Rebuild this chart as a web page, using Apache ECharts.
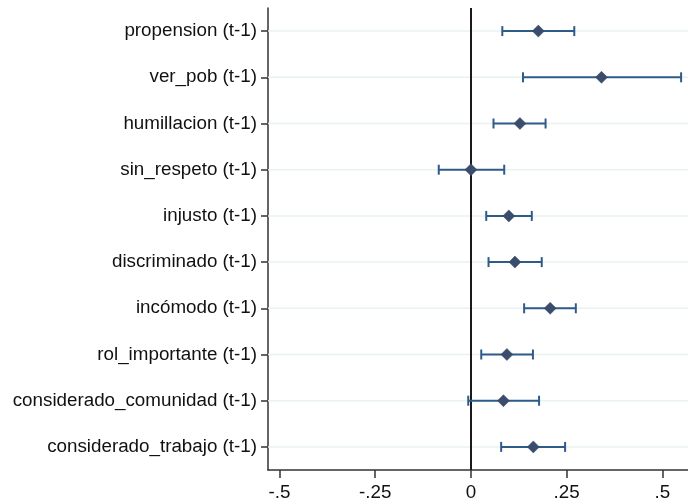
<!DOCTYPE html>
<html>
<head>
<meta charset="utf-8">
<script src="https://cdn.jsdelivr.net/npm/echarts@6/dist/echarts.min.js"></script>
<style>
html,body{margin:0;padding:0;background:#fff;}
#chart{width:688px;height:504px;}
</style>
</head>
<body>
<div id="chart"></div>
<script>
var categories = ["propension (t-1)","ver_pob (t-1)","humillacion (t-1)","sin_respeto (t-1)","injusto (t-1)","discriminado (t-1)","incómodo (t-1)","rol_importante (t-1)","considerado_comunidad (t-1)","considerado_trabajo (t-1)"];
var estimates = [0.176, 0.341, 0.128, 0.000, 0.099, 0.115, 0.207, 0.094, 0.085, 0.163];
var lower     = [0.082, 0.136, 0.059, -0.084, 0.040, 0.046, 0.139, 0.027, -0.007, 0.079];
var upper     = [0.270, 0.549, 0.195, 0.087, 0.159, 0.185, 0.274, 0.162, 0.178, 0.246];
var xTicks = [-0.5, -0.25, 0, 0.25, 0.5];
var xTickLabels = {"-0.5":"-.5","-0.25":"-.25","0":"0","0.25":".25","0.5":".5"};

var chart = echarts.init(document.getElementById('chart'), null, {renderer:'canvas'});
var font = '"Liberation Sans", Arial, sans-serif';

var ciData = categories.map(function(c,i){ return [i, lower[i], upper[i]]; });
var ptData = categories.map(function(c,i){ return [estimates[i], c]; });

var option = {
  backgroundColor:'#ffffff',
  animation:false,
  grid:{left:268, right:0, top:8, bottom:34, containLabel:false},
  xAxis:{
    type:'value', min:-0.53, max:0.567,
    axisLine:{show:true, onZero:false, lineStyle:{color:'#333', width:1.5}},
    axisTick:{show:true, length:8, customValues:xTicks, lineStyle:{color:'#333', width:1.5}},
    axisLabel:{customValues:xTicks, color:'#111', fontSize:18.8, fontFamily:font, margin:13,
      formatter:function(v){ var k=String(Math.round(v*100)/100); return xTickLabels[k]!==undefined?xTickLabels[k]:k; }},
    splitLine:{show:false}
  },
  yAxis:{
    type:'category', data:categories, inverse:true,
    axisLine:{show:true, onZero:false, lineStyle:{color:'#333', width:1.5}},
    axisTick:{show:true, alignWithLabel:true, length:7, lineStyle:{color:'#333', width:1.5}},
    axisLabel:{color:'#111', fontSize:18.8, fontFamily:font, margin:11},
    splitLine:{show:false}
  },
  series:[
    {
      type:'custom', z:1, silent:true,
      data:ciData,
      renderItem:function(params, api){
        var cs = params.coordSys;
        var y = api.coord([0, api.value(0)])[1];
        return {type:'line', shape:{x1:cs.x, y1:y, x2:cs.x+cs.width, y2:y},
          style:{stroke:'#eaf1f3', lineWidth:1.5}};
      },
      encode:{y:0}
    },
    {
      type:'custom', z:3, silent:true,
      data:ciData,
      renderItem:function(params, api){
        var idx = api.value(0);
        var p1 = api.coord([api.value(1), idx]);
        var p2 = api.coord([api.value(2), idx]);
        var h = 5;
        var st = {stroke:'#2f5b89', lineWidth:2};
        return {type:'group', children:[
          {type:'line', shape:{x1:p1[0], y1:p1[1], x2:p2[0], y2:p2[1]}, style:st},
          {type:'line', shape:{x1:p1[0], y1:p1[1]-h, x2:p1[0], y2:p1[1]+h}, style:st},
          {type:'line', shape:{x1:p2[0], y1:p2[1]-h, x2:p2[0], y2:p2[1]+h}, style:st}
        ]};
      },
      encode:{x:[1,2], y:0}
    },
    {
      type:'scatter', z:4, data:ptData, symbol:'diamond', symbolSize:[12,12],
      itemStyle:{color:'#3b4d6d', borderColor:'#34486a', borderWidth:0.5, opacity:1},
      markLine:{silent:true, symbol:'none', label:{show:false}, animation:false,
        lineStyle:{color:'#1a1a1a', width:2, type:'solid'},
        data:[{xAxis:0}], z:2}
    }
  ]
};
chart.setOption(option);
</script>
</body>
</html>
